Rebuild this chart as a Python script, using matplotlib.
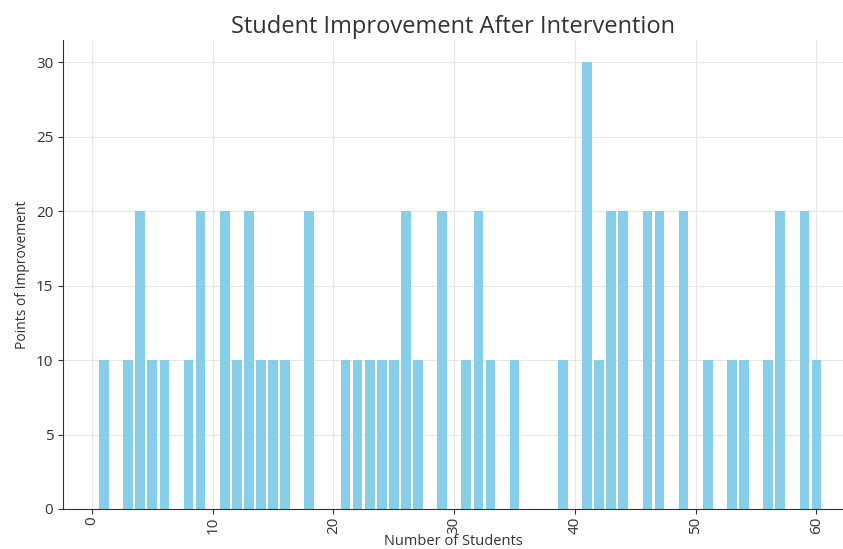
import matplotlib
matplotlib.use("Agg")
import matplotlib.pyplot as plt

plt.rcParams["font.family"] = ["Open Sans", "DejaVu Sans"]

students = [1, 3, 4, 5, 6, 8, 9, 11, 12, 13, 14, 15, 16, 18,
            21, 22, 23, 24, 25, 26, 27, 29, 31, 32, 33, 35, 39,
            41, 42, 43, 44, 46, 47, 49, 51, 53, 54, 56, 57, 59, 60]
improvement = [10, 10, 20, 10, 10, 10, 20, 20, 10, 20, 10, 10, 10, 20,
               10, 10, 10, 10, 10, 20, 10, 20, 10, 20, 10, 10, 10,
               30, 10, 20, 20, 20, 20, 20, 10, 10, 10, 10, 20, 20, 10]

BAR_COLOR = "skyblue"

fig = plt.figure(figsize=(8.43, 5.49), dpi=100)
ax = fig.add_axes([0.0747, 0.0729, 0.9253, 0.8541])

ax.bar(students, improvement, width=0.8, color=BAR_COLOR, zorder=2)

ax.set_xlim(-2.4, 62.2)
ax.set_ylim(0, 31.5)
ax.set_xticks(range(0, 61, 10))
ax.set_yticks(range(0, 31, 5))
ax.tick_params(axis="x", labelrotation=90, labelsize=11, pad=2, colors="#333333")
ax.tick_params(axis="y", labelsize=11, colors="#333333")

ax.set_title("Student Improvement After Intervention", fontsize=17, color="#333333", pad=5)
ax.set_xlabel("Number of Students", fontsize=10.5, color="#333333", labelpad=0)
ax.set_ylabel("Points of Improvement", fontsize=10, color="#333333", labelpad=4)

ax.grid(True, color="#e6e6e6", linewidth=0.8, zorder=0)
ax.set_axisbelow(True)
for side in ("top", "right"):
    ax.spines[side].set_visible(False)
for side in ("left", "bottom"):
    ax.spines[side].set_color("#333333")

fig.savefig("out.png", dpi=100)
